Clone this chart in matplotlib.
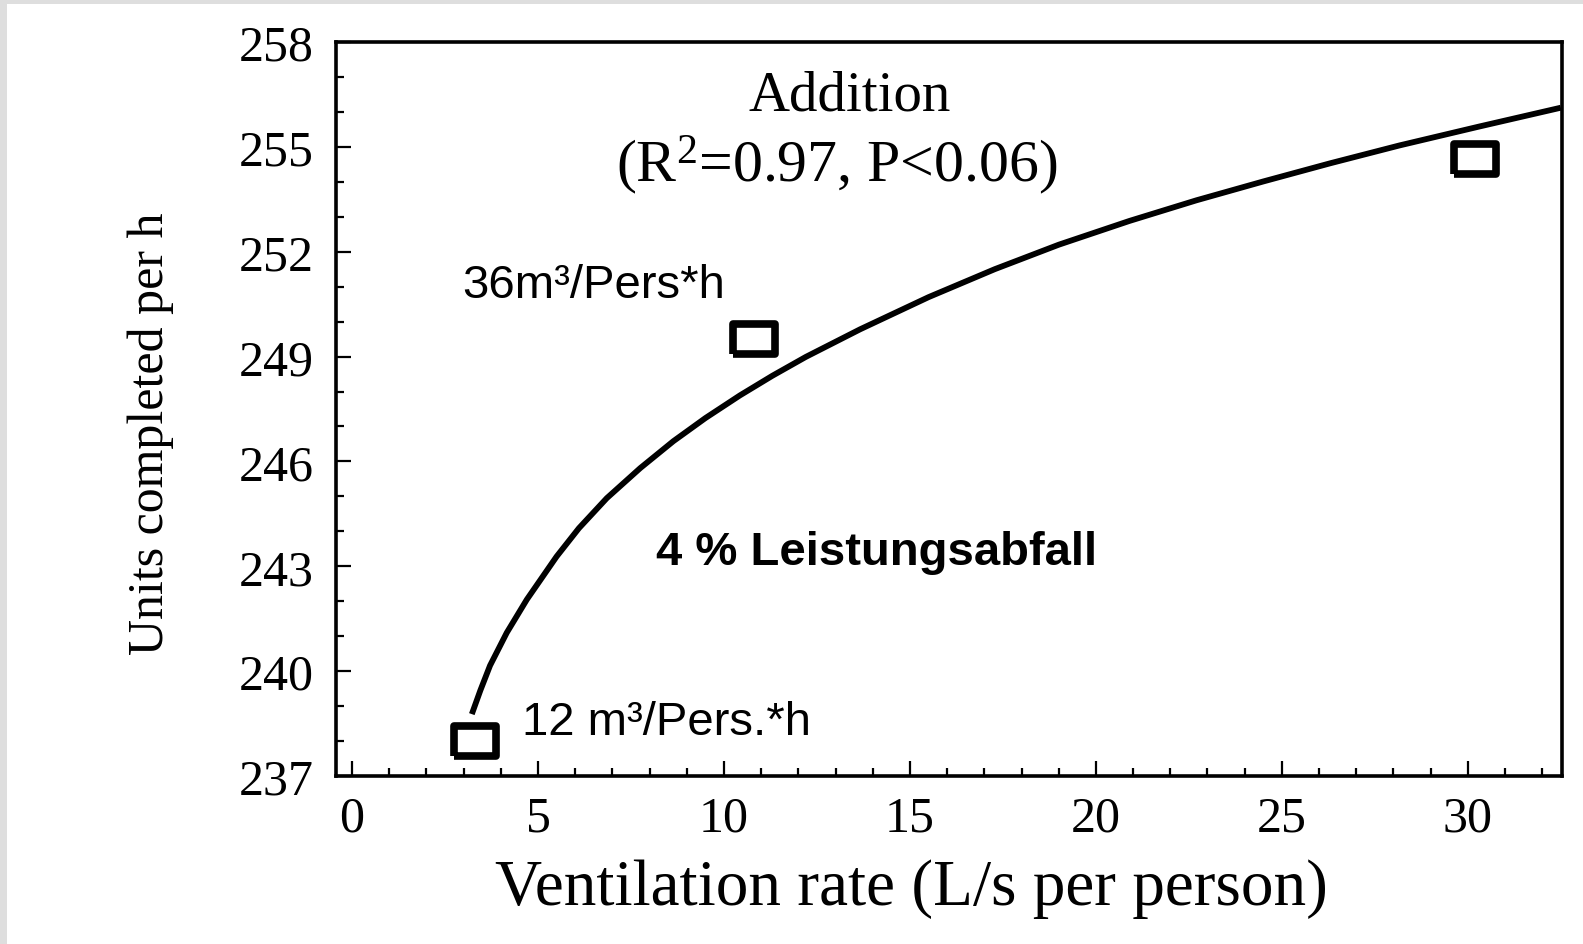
import matplotlib
matplotlib.use("Agg")
import matplotlib.pyplot as plt
from matplotlib.patches import Rectangle
from matplotlib.ticker import MultipleLocator

# measured points (L/s per person, units completed per h)
vent_rate = [3.3, 10.8, 30.2]
units = [238.0, 249.5, 254.65]

# fitted curve
curve_x = [3.22, 3.45, 3.71, 4.16, 4.7, 5.5, 6.1, 6.85, 7.75, 8.64, 9.5,
           10.43, 11.3, 12.2, 13.66, 15.5, 17.28, 19.0, 20.9, 22.7, 24.5,
           26.3, 28.16, 30.3, 32.5]
curve_y = [238.77, 239.45, 240.16, 241.1, 242.05, 243.28, 244.09, 244.95,
           245.81, 246.58, 247.24, 247.89, 248.45, 248.99, 249.78, 250.7,
           251.5, 252.2, 252.88, 253.47, 254.01, 254.53, 255.04, 255.58,
           256.12]

x_ticks = [0, 5, 10, 15, 20, 25, 30]
y_ticks = [237, 240, 243, 246, 249, 252, 255, 258]

SERIF = "Liberation Serif"
SANS = "Liberation Sans"

plt.rcParams["mathtext.fontset"] = "custom"
plt.rcParams["mathtext.rm"] = SERIF
plt.rcParams["mathtext.it"] = SERIF + ":italic"

fig = plt.figure(figsize=(15.83, 9.45), dpi=100)
fig.patch.set_facecolor("white")
ax = fig.add_axes([0.2123, 0.1778, 0.7744, 0.7767])

# light grey strips on the left and top edge
fig.add_artist(Rectangle((0, 0), 7 / 1583, 1, transform=fig.transFigure,
                         color="#dedede", lw=0))
fig.add_artist(Rectangle((0, 1 - 5 / 945), 1, 5 / 945, transform=fig.transFigure,
                         color="#dedede", lw=0))

ax.plot(curve_x, curve_y, color="black", linewidth=4.2, solid_capstyle="butt",
        solid_joinstyle="round", zorder=2)

rect = [(-1, -0.74), (1, -0.74), (1, 0.74), (-1, 0.74), (-1, -0.74)]
ax.plot(vent_rate, units, linestyle="none", marker=rect, markersize=30,
        markerfacecolor="none", markeredgecolor="black", markeredgewidth=5.5,
        zorder=3, clip_on=False)

ax.set_xlim(-0.43, 32.53)
ax.set_ylim(237, 258)
ax.set_xticks(x_ticks)
ax.set_yticks(y_ticks)
ax.xaxis.set_minor_locator(MultipleLocator(1))
ax.yaxis.set_minor_locator(MultipleLocator(1))
ax.tick_params(which="both", direction="in", top=False, right=False,
               width=1.6, colors="black")
ax.tick_params(which="major", length=11, labelsize=36)
ax.tick_params(axis="y", which="major", pad=16)
ax.tick_params(axis="x", which="major", pad=14)
ax.tick_params(which="minor", length=6)
for lab in ax.get_xticklabels() + ax.get_yticklabels():
    lab.set_family(SERIF)

for sp in ax.spines.values():
    sp.set_linewidth(2.6)

ax.set_xlabel("Ventilation rate (L/s per person)", family=SERIF, fontsize=47)
ax.set_ylabel("Units completed per h", family=SERIF, fontsize=36)
ax.xaxis.set_label_coords(0.469, -0.153)
ax.yaxis.set_label_coords(-0.151, 0.467)
ax.xaxis.label.set_va("center")
ax.yaxis.label.set_va("center")

ax.text(13.39, 256.48, "Addition", family=SERIF, fontsize=41,
        ha="center", va="center")
ax.text(13.04, 254.52, "(R$^{2}$=0.97, P<0.06)", family=SERIF, fontsize=43,
        ha="center", va="center")

ax.text(2.96, 251.05, "36m³/Pers*h", family=SANS, fontsize=34,
        ha="left", va="center")
ax.text(8.17, 243.41, "4 % Leistungsabfall", family=SANS, fontsize=34,
        fontweight="bold", ha="left", va="center")
ax.text(4.57, 238.55, "12 m³/Pers.*h", family=SANS, fontsize=34,
        ha="left", va="center")

fig.savefig("out.png", dpi=100)
